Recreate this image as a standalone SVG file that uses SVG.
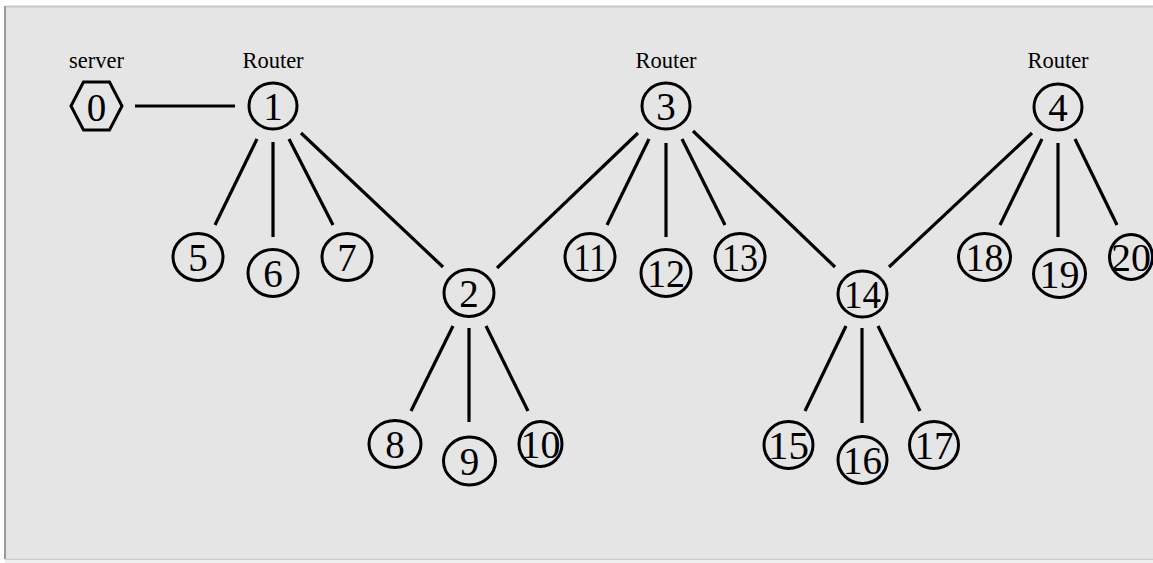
<svg xmlns="http://www.w3.org/2000/svg" width="1153" height="563" viewBox="0 0 1153 563">
<style>
.n{fill:none;stroke:#000;stroke-width:3}
.t{font-family:"Liberation Serif","Times New Roman",serif;font-size:39px;text-anchor:middle;fill:#000}
.l{font-family:"Liberation Serif","Times New Roman",serif;font-size:22.5px;text-anchor:middle;fill:#000}
.e{stroke:#000;stroke-width:3.2;fill:none}
</style>
<rect x="0" y="0" width="1153" height="563" fill="#ffffff"/>
<rect x="5" y="6" width="1148" height="553" fill="#e5e5e5"/>
<line x1="5" y1="6.5" x2="1153" y2="6.5" stroke="#c8c8c8" stroke-width="2"/>
<line x1="5" y1="6" x2="5" y2="559" stroke="#9a9a9a" stroke-width="2"/>
<line x1="5" y1="559.5" x2="1153" y2="559.5" stroke="#cccccc" stroke-width="1.5"/>
<rect x="5" y="560.5" width="1148" height="3" fill="#efefef"/>
<g id="connectors">
<line class="e" x1="135" y1="106" x2="235" y2="106"/>
<line class="e" x1="257" y1="139" x2="215" y2="225"/>
<line class="e" x1="273" y1="142" x2="273" y2="237"/>
<line class="e" x1="289" y1="139" x2="333" y2="225"/>
<line class="e" x1="301" y1="133" x2="443" y2="267"/>
<line class="e" x1="638" y1="133" x2="497" y2="268"/>
<line class="e" x1="649" y1="139" x2="607" y2="225"/>
<line class="e" x1="666" y1="143" x2="666" y2="237"/>
<line class="e" x1="682" y1="139" x2="725" y2="225"/>
<line class="e" x1="693" y1="131" x2="835" y2="267"/>
<line class="e" x1="1032" y1="133" x2="889" y2="267"/>
<line class="e" x1="1042" y1="139" x2="1000" y2="225"/>
<line class="e" x1="1058" y1="143" x2="1058" y2="237"/>
<line class="e" x1="1075" y1="139" x2="1117" y2="225"/>
<line class="e" x1="453" y1="326" x2="411" y2="411"/>
<line class="e" x1="469" y1="328" x2="469" y2="422"/>
<line class="e" x1="486" y1="326" x2="528" y2="411"/>
<line class="e" x1="846" y1="326" x2="805" y2="411"/>
<line class="e" x1="862" y1="328" x2="862" y2="423"/>
<line class="e" x1="878" y1="326" x2="920" y2="411"/>
</g>
<g id="node0"><text class="l" x="96.5" y="68">server</text><polygon class="n" points="71,106 83.5,82 109.5,82 122,106 109.5,130 83.5,130"/><text class="t" x="96.5" y="121">0</text></g>
<g id="node1"><text class="l" x="273" y="68">Router</text><ellipse class="n" cx="273" cy="106" rx="24" ry="23"/><text class="t" x="273" y="120">1</text></g>
<g id="node3"><text class="l" x="666" y="68">Router</text><ellipse class="n" cx="666" cy="106" rx="24" ry="23"/><text class="t" x="666" y="120">3</text></g>
<g id="node4"><text class="l" x="1058" y="68">Router</text><ellipse class="n" cx="1058" cy="107" rx="24" ry="23"/><text class="t" x="1058" y="121">4</text></g>
<g id="node2"><ellipse class="n" cx="469" cy="293" rx="25" ry="23.5"/><text class="t" x="469" y="307">2</text></g>
<g id="node14"><ellipse class="n" cx="862.5" cy="294" rx="24.5" ry="23"/><text class="t" x="862.5" y="308" textLength="37" lengthAdjust="spacingAndGlyphs">14</text></g>
<g id="node5"><ellipse class="n" cx="198" cy="257" rx="25" ry="23.5"/><text class="t" x="198" y="271">5</text></g>
<g id="node6"><ellipse class="n" cx="273" cy="273" rx="25" ry="23.5"/><text class="t" x="273" y="287">6</text></g>
<g id="node7"><ellipse class="n" cx="347" cy="257" rx="25" ry="23.5"/><text class="t" x="347" y="271">7</text></g>
<g id="node8"><ellipse class="n" cx="395" cy="444" rx="26" ry="23.5"/><text class="t" x="395" y="458">8</text></g>
<g id="node9"><ellipse class="n" cx="469.5" cy="461" rx="26" ry="24"/><text class="t" x="469.5" y="475">9</text></g>
<g id="node10"><ellipse class="n" cx="540.5" cy="444" rx="21.5" ry="22.5"/><text class="t" x="540.5" y="458" textLength="40" lengthAdjust="spacingAndGlyphs">10</text></g>
<g id="node11"><ellipse class="n" cx="590" cy="257" rx="25" ry="23.5"/><text class="t" x="590" y="271" textLength="33" lengthAdjust="spacingAndGlyphs">11</text></g>
<g id="node12"><ellipse class="n" cx="666" cy="273" rx="25" ry="23.5"/><text class="t" x="666" y="287" textLength="38" lengthAdjust="spacingAndGlyphs">12</text></g>
<g id="node13"><ellipse class="n" cx="740" cy="257" rx="25" ry="23.5"/><text class="t" x="740" y="271" textLength="36" lengthAdjust="spacingAndGlyphs">13</text></g>
<g id="node15"><ellipse class="n" cx="788.5" cy="445" rx="24.5" ry="23.5"/><text class="t" x="788.5" y="459" textLength="41" lengthAdjust="spacingAndGlyphs">15</text></g>
<g id="node16"><ellipse class="n" cx="862.5" cy="460" rx="24.5" ry="23.5"/><text class="t" x="862.5" y="474" textLength="39" lengthAdjust="spacingAndGlyphs">16</text></g>
<g id="node17"><ellipse class="n" cx="934" cy="445" rx="24.5" ry="23.5"/><text class="t" x="934" y="459" textLength="39" lengthAdjust="spacingAndGlyphs">17</text></g>
<g id="node18"><ellipse class="n" cx="984.5" cy="257" rx="26" ry="23.5"/><text class="t" x="984.5" y="271" textLength="38" lengthAdjust="spacingAndGlyphs">18</text></g>
<g id="node19"><ellipse class="n" cx="1059.5" cy="273.5" rx="26" ry="24"/><text class="t" x="1059.5" y="287.5" textLength="40" lengthAdjust="spacingAndGlyphs">19</text></g>
<g id="node20"><ellipse class="n" cx="1131" cy="257" rx="21.5" ry="22.5"/><text class="t" x="1131" y="271" textLength="40" lengthAdjust="spacingAndGlyphs">20</text></g>
</svg>
